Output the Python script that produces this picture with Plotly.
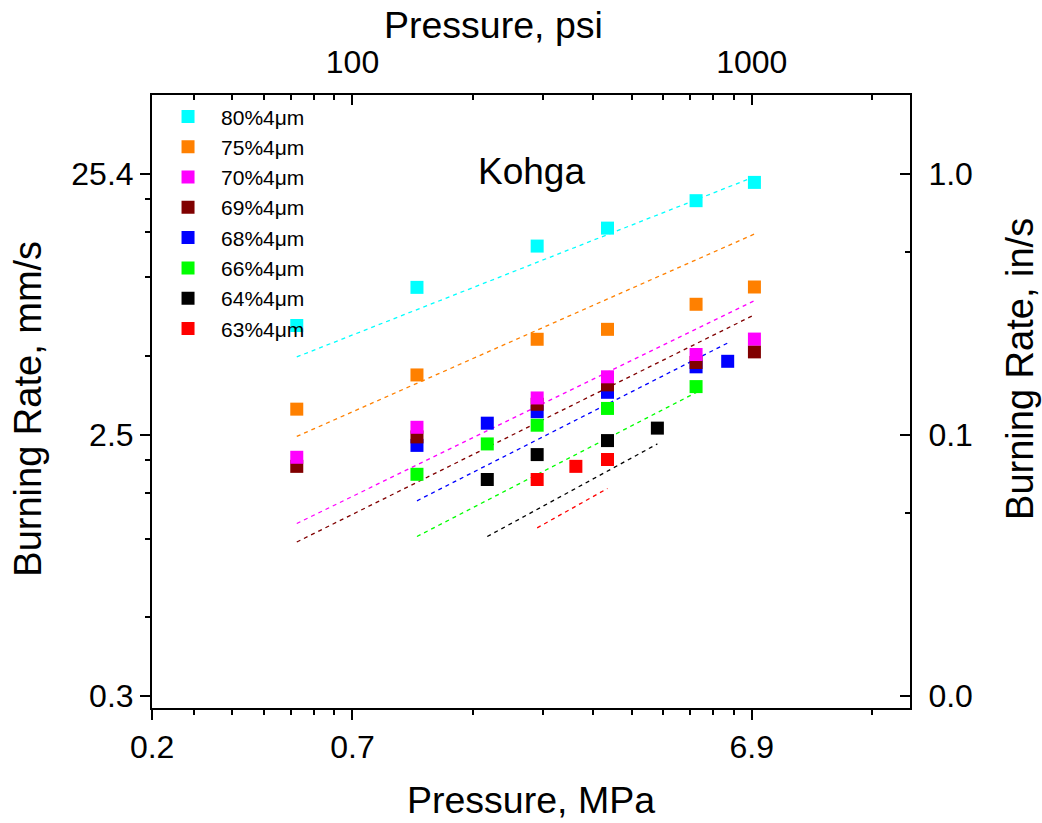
import math
import plotly.graph_objects as go

# ---------------- data (pressure in MPa, burning rate in mm/s) ----------------
p80 = [0.5, 1.0, 2.0, 3.0, 5.0, 7.0]
r80 = [6.65, 9.31, 13.4, 15.7, 20.0, 23.5]
p75 = [0.5, 1.0, 2.0, 3.0, 5.0, 7.0]
r75 = [3.18, 4.30, 5.89, 6.43, 8.02, 9.34]
p70 = [0.5, 1.0, 2.0, 3.0, 5.0, 7.0]
r70 = [2.08, 2.71, 3.51, 4.23, 5.15, 5.90]
p69 = [0.5, 1.0, 2.0, 3.0, 5.0, 7.0]
r69 = [1.92, 2.49, 3.32, 3.94, 4.80, 5.27]
p68 = [1.0, 1.5, 2.0, 3.0, 5.0, 6.0]
r68 = [2.31, 2.81, 3.11, 3.69, 4.62, 4.85]
p66 = [1.0, 1.5, 2.0, 3.0, 5.0]
r66 = [1.79, 2.34, 2.76, 3.20, 3.88]
p64 = [1.5, 2.0, 3.0, 4.0]
r64 = [1.71, 2.13, 2.41, 2.69]
p63 = [2.0, 2.5, 3.0]
r63 = [1.71, 1.92, 2.04]

# dashed reference lines (end points)
fit80_p = [0.5, 7.0]; fit80_r = [5.04, 24.7]
fit75_p = [0.5, 7.0]; fit75_r = [2.50, 14.9]
fit70_p = [0.5, 7.0]; fit70_r = [1.16, 8.28]
fit69_p = [0.5, 7.0]; fit69_r = [0.985, 7.31]
fit68_p = [1.0, 6.0]; fit68_r = [1.417, 5.70]
fit66_p = [1.0, 5.0]; fit66_r = [1.034, 3.68]
fit64_p = [1.5, 4.0]; fit64_r = [1.034, 2.34]
fit63_p = [2.0, 3.0]; fit63_r = [1.116, 1.58]

names = ["63%4μm", "64%4μm", "66%4μm", "68%4μm", "69%4μm", "70%4μm", "75%4μm", "80%4μm"]

# tick labels
x_tick_labels = ["0.2", "0.7", "6.9"]
x2_tick_labels = ["100", "1000"]
y_tick_labels = ["0.3", "2.5", "25.4"]
y2_tick_labels = ["0.0", "0.1", "1.0"]

# ---------------- styling / axes ----------------
colors = ["#FF0000", "#000000", "#00FF00", "#0000FF", "#800000", "#FF00FF", "#FF8000", "#00FFFF"]
pts = [(p63, r63), (p64, r64), (p66, r66), (p68, r68), (p69, r69), (p70, r70), (p75, r75), (p80, r80)]
fits = [(fit63_p, fit63_r), (fit64_p, fit64_r), (fit66_p, fit66_r), (fit68_p, fit68_r),
        (fit69_p, fit69_r), (fit70_p, fit70_r), (fit75_p, fit75_r), (fit80_p, fit80_r)]

PSI_PER_MPA = 145.0377
X_LO_PSI, X_HI_PSI = 31.47, 2490.0
X_LO_MPA, X_HI_MPA = X_LO_PSI / PSI_PER_MPA, X_HI_PSI / PSI_PER_MPA
Y_LO_IN, Y_HI_IN = 0.00897, 2.0
MM_PER_IN = 25.4

FONT = "Arial, Liberation Sans, sans-serif"
TICK_SIZE = 32
TITLE_SIZE = 37.5
YTITLE_SIZE = 38

fig = go.Figure()

for (fp, fr), c in zip(fits, colors):
    fig.add_trace(go.Scatter(x=fp, y=fr, mode="lines", showlegend=False, hoverinfo="skip",
                             line=dict(color=c, width=1.3, dash="4px,4px")))

for (p, r), c, n in zip(pts, colors, names):
    fig.add_trace(go.Scatter(x=p, y=r, mode="markers", name=n,
                             marker=dict(symbol="square", size=13, color=c, line=dict(width=0))))

# invisible trace to carry the secondary (psi, in/s) axes
fig.add_trace(go.Scatter(x=[100], y=[0.1], xaxis="x2", yaxis="y2", mode="markers",
                         marker=dict(opacity=0), showlegend=False, hoverinfo="skip"))

x2_minor = [m * 10 for m in [4, 5, 6, 7, 8, 9]] + [m * 100 for m in [2, 3, 4, 5, 6, 7, 8, 9]] + [2000]
x_minor = [v / PSI_PER_MPA for v in x2_minor]
x_major_psi = [X_LO_PSI * 1.001, 100, 1000]
x_major = [v / PSI_PER_MPA for v in x_major_psi]

y2_major = [0.01, 0.1, 1.0]
y_major = [v * MM_PER_IN for v in y2_major]
y_minor = [f * d * MM_PER_IN for d in [0.01, 0.1, 1.0] for f in [0.2, 0.4, 0.6, 0.8]]
y_minor = [v for v in y_minor if v > Y_LO_IN * MM_PER_IN]
y2_minor = [0.05, 0.5]

axis_common = dict(showline=True, linewidth=2, linecolor="black", showgrid=False, zeroline=False,
                   tickwidth=2, tickcolor="black", ticklen=10,
                   tickfont=dict(family=FONT, size=TICK_SIZE, color="black"))
minor_common = dict(tickmode="array", ticklen=5, tickwidth=2, tickcolor="black")

fig.update_layout(
    width=1042, height=823, autosize=False,
    margin=dict(l=152, r=132, t=95, b=115),
    paper_bgcolor="white", plot_bgcolor="white",
    font=dict(family=FONT, color="black"),
    xaxis=dict(type="log", range=[math.log10(X_LO_MPA), math.log10(X_HI_MPA)],
               tickmode="array", tickvals=x_major, ticktext=x_tick_labels, ticks="outside",
               minor=dict(tickvals=x_minor, ticks="outside", **minor_common),
               **axis_common),
    xaxis2=dict(type="log", overlaying="x", side="top", anchor="y",
                range=[math.log10(X_LO_PSI), math.log10(X_HI_PSI)],
                tickmode="array", tickvals=[100, 1000], ticktext=x2_tick_labels, ticks="inside",
                ticklabelstandoff=7,
                minor=dict(tickvals=x2_minor, ticks="inside", **minor_common),
                **axis_common),
    yaxis=dict(type="log", range=[math.log10(Y_LO_IN * MM_PER_IN), math.log10(Y_HI_IN * MM_PER_IN)],
               tickmode="array", tickvals=y_major, ticktext=y_tick_labels, ticks="outside",
               minor=dict(tickvals=y_minor, ticks="outside", **minor_common),
               **axis_common),
    yaxis2=dict(type="log", overlaying="y", side="right", anchor="x",
                range=[math.log10(Y_LO_IN), math.log10(Y_HI_IN)],
                tickmode="array", tickvals=y2_major, ticktext=y2_tick_labels, ticks="inside",
                ticklabelstandoff=10,
                minor=dict(tickvals=y2_minor, ticks="inside", **minor_common),
                **axis_common),
    legend=dict(x=0.004, y=0.998, xanchor="left", yanchor="top", traceorder="reversed",
                font=dict(family=FONT, size=21, color="black"), itemwidth=56,
                bgcolor="rgba(0,0,0,0)", borderwidth=0),
    showlegend=True,
    annotations=[
        dict(text="Kohga", xref="paper", yref="paper", x=0.5013, y=0.8744, showarrow=False,
             xanchor="center", yanchor="middle", font=dict(family=FONT, size=37, color="black")),
        dict(text="Pressure, MPa", xref="paper", yref="paper", x=0.5, y=-0.150, showarrow=False,
             xanchor="center", yanchor="middle", font=dict(family=FONT, size=TITLE_SIZE, color="black")),
        dict(text="Pressure, psi", xref="paper", yref="paper", x=0.4505, y=1.114, showarrow=False,
             xanchor="center", yanchor="middle", font=dict(family=FONT, size=TITLE_SIZE, color="black")),
        dict(text="Burning Rate, mm/s", xref="paper", yref="paper", x=-0.164, y=0.4878,
             showarrow=False, textangle=-90, xanchor="center", yanchor="middle",
             font=dict(family=FONT, size=YTITLE_SIZE, color="black")),
        dict(text="Burning Rate, in/s", xref="paper", yref="paper", x=1.145, y=0.5530,
             showarrow=False, textangle=-90, xanchor="center", yanchor="middle",
             font=dict(family=FONT, size=YTITLE_SIZE, color="black")),
    ],
)

fig.write_html("out.html")
